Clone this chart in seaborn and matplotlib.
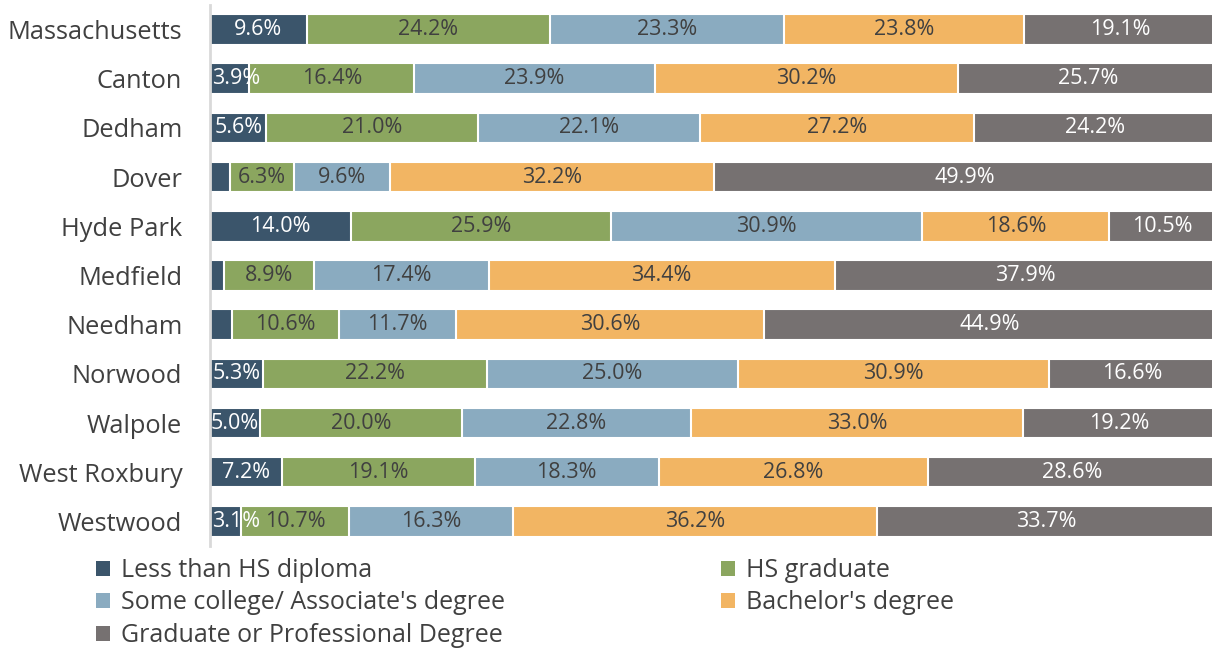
import matplotlib
matplotlib.use("Agg")
import matplotlib.pyplot as plt
import seaborn as sns
import numpy as np
import pandas as pd
from matplotlib.patches import Patch

# Educational attainment, share of population 25+ (%)
towns = ["Massachusetts", "Canton", "Dedham", "Dover", "Hyde Park", "Medfield",
         "Needham", "Norwood", "Walpole", "West Roxbury", "Westwood"]
less_hs = [9.6, 3.9, 5.6, 2.0, 14.0, 1.4, 2.2, 5.3, 5.0, 7.2, 3.1]
hs_grad = [24.2, 16.4, 21.0, 6.3, 25.9, 8.9, 10.6, 22.2, 20.0, 19.1, 10.7]
some_college = [23.3, 23.9, 22.1, 9.6, 30.9, 17.4, 11.7, 25.0, 22.8, 18.3, 16.3]
bachelors = [23.8, 30.2, 27.2, 32.2, 18.6, 34.4, 30.6, 30.9, 33.0, 26.8, 36.2]
graduate = [19.1, 25.7, 24.2, 49.9, 10.5, 37.9, 44.9, 16.6, 19.2, 28.6, 33.7]

series_names = ["Less than HS diploma", "HS graduate", "Some college/ Associate's degree",
                "Bachelor's degree", "Graduate or Professional Degree"]
series_values = [less_hs, hs_grad, some_college, bachelors, graduate]
colors = ["#3B556B", "#8BA65F", "#8AABC0", "#F2B563", "#767171"]
label_colors = ["white", "#404040", "#404040", "#404040", "white"]

sns.set_theme(style="white")
plt.rcParams["font.family"] = ["Open Sans", "DejaVu Sans"]

fig = plt.figure(figsize=(12.12, 6.48), dpi=100)
# plot area runs slightly past the right edge of the canvas
ax = fig.add_axes([0.1733, 0.1574, 0.8300, 0.8350])

df = pd.DataFrame({"town": towns})
cum = np.cumsum(np.array(series_values), axis=0)
for i, name in enumerate(series_names):
    df[name] = cum[i]

# stacked bars: draw cumulative totals from the widest down
for i in reversed(range(len(series_names))):
    sns.barplot(data=df, x=series_names[i], y="town", orient="h", color=colors[i],
                saturation=1, width=0.62, edgecolor="white", linewidth=1.5, ax=ax)

# segment labels (narrow segments: label starts at the segment's left edge)
for i, vals in enumerate(series_values):
    starts = cum[i] - np.array(vals)
    for j, v in enumerate(vals):
        if v < 3:
            continue
        if v < 4.5:
            x, ha = starts[j] + 0.2, "left"
        else:
            x, ha = starts[j] + v / 2, "center"
        ax.text(x, j, f"{v:.1f}%", ha=ha, va="center",
                fontsize=15.5, color=label_colors[i])

ax.set_xlim(0, 100)
ax.set_xlabel("")
ax.set_ylabel("")
ax.set_xticks([])
for s in ["top", "right", "bottom"]:
    ax.spines[s].set_visible(False)
ax.spines["left"].set_color("#D9D9D9")
ax.spines["left"].set_linewidth(2)
ax.tick_params(axis="y", length=0, pad=20, labelsize=18.3, labelcolor="#404040")

handles = [Patch(facecolor=c, edgecolor="none") for c in colors]
leg_kw = dict(frameon=False, fontsize=18, handlelength=0.55, handleheight=0.55,
              handletextpad=0.45, labelspacing=0.3, borderaxespad=0, borderpad=0,
              labelcolor="#404040")
leg1 = fig.legend([handles[0], handles[2], handles[4]],
                  [series_names[0], series_names[2], series_names[4]],
                  loc="upper left", bbox_to_anchor=(0.0795, 0.139), **leg_kw)
leg2 = fig.legend([handles[1], handles[3]], [series_names[1], series_names[3]],
                  loc="upper left", bbox_to_anchor=(0.595, 0.139), **leg_kw)

fig.savefig("out.png", dpi=100)
